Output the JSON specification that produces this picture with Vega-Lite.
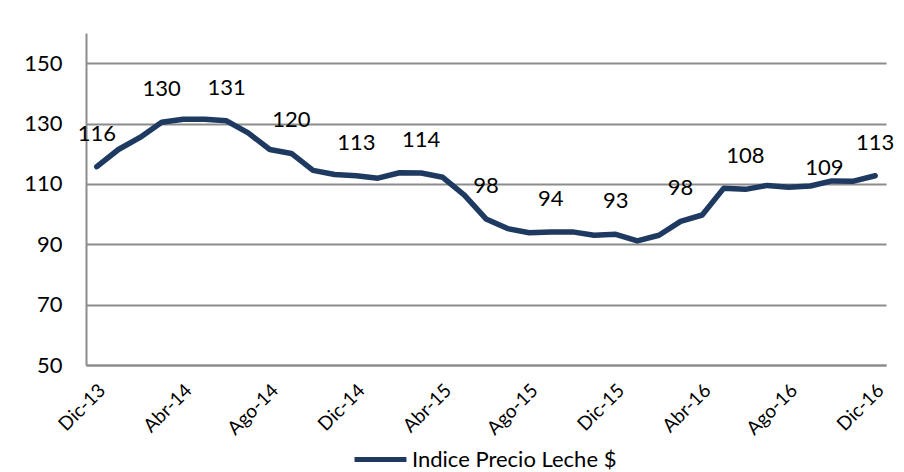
{
  "$schema": "https://vega.github.io/schema/vega-lite/v6.json",
  "width": 800,
  "height": 332,
  "autosize": {"type": "none"},
  "padding": {"left": 86, "top": 33, "right": 18, "bottom": 107},
  "background": "white",
  "config": {
    "view": {"stroke": null},
    "font": "Lato",
    "axis": {"labelFont": "Lato", "labelColor": "#000000"},
    "legend": {"labelFont": "Lato"}
  },
  "data": {
    "values": [
      {"mes": "Dic-13", "indice": 115.7, "etiqueta": true},
      {"mes": "Ene-14", "indice": 121.4, "etiqueta": false},
      {"mes": "Feb-14", "indice": 125.4, "etiqueta": false},
      {"mes": "Mar-14", "indice": 130.4, "etiqueta": true},
      {"mes": "Abr-14", "indice": 131.4, "etiqueta": false},
      {"mes": "May-14", "indice": 131.4, "etiqueta": false},
      {"mes": "Jun-14", "indice": 130.9, "etiqueta": true},
      {"mes": "Jul-14", "indice": 126.9, "etiqueta": false},
      {"mes": "Ago-14", "indice": 121.4, "etiqueta": false},
      {"mes": "Sep-14", "indice": 120.1, "etiqueta": true},
      {"mes": "Oct-14", "indice": 114.5, "etiqueta": false},
      {"mes": "Nov-14", "indice": 113.1, "etiqueta": false},
      {"mes": "Dic-14", "indice": 112.7, "etiqueta": true},
      {"mes": "Ene-15", "indice": 111.9, "etiqueta": false},
      {"mes": "Feb-15", "indice": 113.7, "etiqueta": false},
      {"mes": "Mar-15", "indice": 113.6, "etiqueta": true},
      {"mes": "Abr-15", "indice": 112.2, "etiqueta": false},
      {"mes": "May-15", "indice": 106.3, "etiqueta": false},
      {"mes": "Jun-15", "indice": 98.4, "etiqueta": true},
      {"mes": "Jul-15", "indice": 95.2, "etiqueta": false},
      {"mes": "Ago-15", "indice": 93.8, "etiqueta": false},
      {"mes": "Sep-15", "indice": 94.1, "etiqueta": true},
      {"mes": "Oct-15", "indice": 94.1, "etiqueta": false},
      {"mes": "Nov-15", "indice": 93.0, "etiqueta": false},
      {"mes": "Dic-15", "indice": 93.3, "etiqueta": true},
      {"mes": "Ene-16", "indice": 91.1, "etiqueta": false},
      {"mes": "Feb-16", "indice": 93.0, "etiqueta": false},
      {"mes": "Mar-16", "indice": 97.6, "etiqueta": true},
      {"mes": "Abr-16", "indice": 99.7, "etiqueta": false},
      {"mes": "May-16", "indice": 108.6, "etiqueta": false},
      {"mes": "Jun-16", "indice": 108.2, "etiqueta": true},
      {"mes": "Jul-16", "indice": 109.5, "etiqueta": false},
      {"mes": "Ago-16", "indice": 108.9, "etiqueta": false},
      {"mes": "Sep-16", "indice": 109.3, "etiqueta": true},
      {"mes": "Oct-16", "indice": 111.0, "etiqueta": false},
      {"mes": "Nov-16", "indice": 110.9, "etiqueta": false},
      {"mes": "Dic-16", "indice": 112.7, "etiqueta": true}
    ]
  },
  "encoding": {
    "x": {
      "field": "mes",
      "type": "ordinal",
      "sort": null,
      "scale": {"type": "point", "padding": 0.5},
      "axis": {
        "title": null,
        "values": ["Dic-13", "Abr-14", "Ago-14", "Dic-14", "Abr-15", "Ago-15", "Dic-15", "Abr-16", "Ago-16", "Dic-16"],
        "labelAngle": -45,
        "labelAlign": "right",
        "labelBaseline": "middle",
        "labelFontSize": 19,
        "labelPadding": 22,
        "labelOffset": 5,
        "ticks": false,
        "tickSize": 0,
        "domain": true,
        "domainColor": "#8C8C8C",
        "domainWidth": 2,
        "grid": false
      }
    },
    "y": {
      "field": "indice",
      "type": "quantitative",
      "scale": {"domain": [50, 160], "nice": false, "zero": false},
      "axis": {
        "title": null,
        "values": [50, 70, 90, 110, 130, 150],
        "labelFontSize": 22,
        "labelPadding": 24,
        "ticks": false,
        "tickSize": 0,
        "domain": true,
        "domainColor": "#8C8C8C",
        "domainWidth": 2,
        "grid": true,
        "gridColor": "#8C8C8C",
        "gridWidth": 2
      }
    }
  },
  "layer": [
    {
      "mark": {"type": "line", "strokeWidth": 5.5, "strokeJoin": "round", "strokeCap": "round"},
      "encoding": {
        "color": {
          "datum": "Indice Precio Leche $",
          "scale": {"range": ["#1F3A60"]},
          "legend": {
            "title": null,
            "orient": "none",
            "legendX": 266,
            "legendY": 398,
            "direction": "horizontal",
            "symbolType": "stroke",
            "symbolSize": 2700,
            "symbolStrokeWidth": 5,
            "labelFontSize": 22,
            "labelLimit": 400,
            "labelOffset": 3,
            "labelColor": "#000000"
          }
        }
      }
    },
    {
      "transform": [{"filter": "datum.etiqueta && datum.mes != 'Sep-16'"}],
      "mark": {"type": "text", "dy": -33, "fontSize": 22, "font": "Lato", "color": "#000000"},
      "encoding": {
        "text": {"field": "indice", "type": "quantitative", "format": ".0f"}
      }
    },
    {
      "transform": [{"filter": "datum.mes == 'Sep-16'"}],
      "mark": {"type": "text", "dx": 14, "dy": -18, "fontSize": 22, "font": "Lato", "color": "#000000"},
      "encoding": {
        "text": {"field": "indice", "type": "quantitative", "format": ".0f"}
      }
    }
  ]
}
